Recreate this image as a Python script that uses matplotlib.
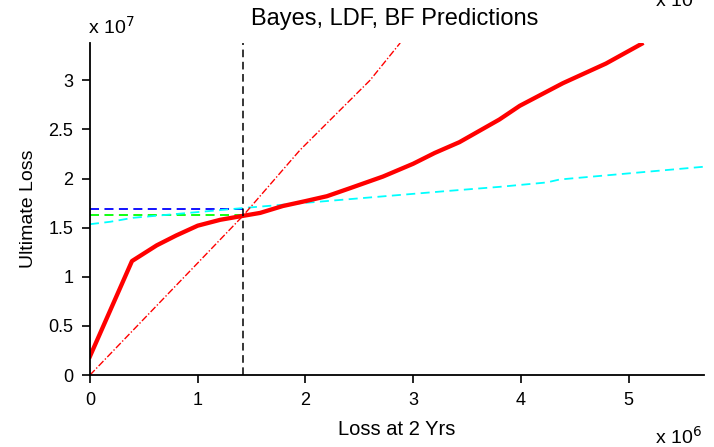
import matplotlib.pyplot as plt

plt.rcParams['font.family'] = ['Liberation Sans', 'DejaVu Sans']

# Bayes prediction (x in 1e6, y in 1e7)
bayes_x = [0.0, 0.39, 0.62, 0.80, 1.00, 1.21, 1.42, 1.58, 1.79, 2.00, 2.20, 2.41,
           2.72, 3.00, 3.20, 3.43, 3.80, 3.99, 4.39, 4.79, 5.12]
bayes_y = [0.19, 1.16, 1.32, 1.42, 1.52, 1.58, 1.62, 1.65, 1.72, 1.77, 1.82, 1.90,
           2.02, 2.15, 2.26, 2.37, 2.60, 2.74, 2.97, 3.17, 3.37]

# chain ladder (LDF) prediction
ldf_x = [0.0, 0.50, 1.00, 1.42, 1.95, 2.60, 2.88]
ldf_y = [0.0, 0.57, 1.14, 1.62, 2.29, 3.00, 3.38]

# Bornhuetter-Ferguson prediction
bf_x = [0.0, 0.19, 0.40, 1.48, 3.34, 3.80, 4.24, 4.36, 5.70]
bf_y = [1.535, 1.56, 1.60, 1.705, 1.875, 1.915, 1.96, 1.99, 2.12]

observed = 1.42
bayes_at_obs = 1.687
bf_at_obs = 1.63

fig = plt.figure(figsize=(7.14, 4.47), dpi=100)
ax = fig.add_axes([0.126, 0.161, 0.86, 0.743])

ax.plot([0, observed], [bayes_at_obs, bayes_at_obs], color='#0000ff', lw=1.3,
        dashes=(5, 3), clip_on=False)
ax.plot([0, observed], [bf_at_obs, bf_at_obs], color='#00ff00', lw=1.3,
        dashes=(5, 3), clip_on=False)
ax.plot(bf_x, bf_y, color='#00ffff', lw=1.3, dashes=(5, 3))
ax.plot(ldf_x, ldf_y, color='red', lw=1.0, dashes=(5, 1.5, 1, 1.5))
ax.plot(bayes_x, bayes_y, color='red', lw=3.1, solid_joinstyle='round')
ax.axvline(observed, color='black', lw=1.1, dashes=(5, 3))

ax.set_xlim(0, 5.7)
ax.set_ylim(0, 3.38)
ax.set_xticks([0, 1, 2, 3, 4, 5])
ax.set_yticks([0, 0.5, 1, 1.5, 2, 2.5, 3])
ax.set_xticklabels(['0', '1', '2', '3', '4', '5'])
ax.set_yticklabels(['0', '0.5', '1', '1.5', '2', '2.5', '3'])
ax.tick_params(direction='out', length=6, width=1.2, labelsize=13, pad=6)
for s in ['top', 'right']:
    ax.spines[s].set_visible(False)
for s in ['left', 'bottom']:
    ax.spines[s].set_linewidth(1.3)

ax.set_xlabel('Loss at 2 Yrs', fontsize=14.5, labelpad=8)
ax.set_ylabel('Ultimate Loss', fontsize=14, labelpad=8)
fig.text(0.553, 0.958, 'Bayes, LDF, BF Predictions', fontsize=17,
         ha='center', va='center')

# scale factors
fig.text(0.123, 0.94, r'x 10$^{7}$', fontsize=14, ha='left', va='center')
fig.text(0.917, 0.022, r'x 10$^{6}$', fontsize=14, ha='left', va='center')
fig.text(0.917, 1.0, r'x 10$^{6}$', fontsize=14, ha='left', va='center')

fig.savefig('out.png', dpi=100)
